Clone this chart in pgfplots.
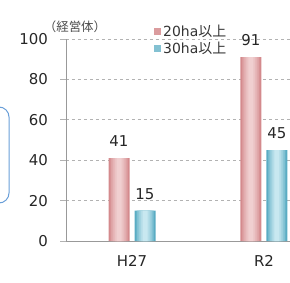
\documentclass[border=0pt]{standalone}
\usepackage{fontspec}
\setmainfont{DejaVu Sans}
\newfontfamily\jp{Noto Sans CJK JP}
\usepackage{pgfplots}
\pgfplotsset{compat=1.18}
\definecolor{pinkD}{HTML}{D48A8D}
\definecolor{pinkL}{HTML}{F0CFD0}
\definecolor{blueD}{HTML}{5AACC3}
\definecolor{blueL}{HTML}{C8E8F0}
\definecolor{boxblue}{HTML}{6A9FD8}
\newcommand{\bigf}{\fontsize{15}{18}\selectfont}
\begin{document}
\begin{tikzpicture}
\path[use as bounding box] (0bp,0bp) rectangle (290bp,283bp);
\draw[rounded corners=10bp, boxblue, line width=1bp] (-20bp,176bp) rectangle (9bp,80bp);
\node[font=\fontsize{12.5}{14}\selectfont\jp, text=black!70] at (75bp,256bp) {（経営体）};
\begin{axis}[
  at={(66bp,42bp)}, anchor=south west,
  scale only axis, width=224bp, height=202bp,
  xmin=-0.5, xmax=1.197, ymin=0, ymax=100,
  axis lines=left,
  axis line style={-, gray!80, line width=0.8bp},
  ytick={0,20,40,60,80,100},
  ymajorgrids, grid style={dashed, gray!60, line width=0.8bp},
  ytick style={gray!60, line width=0.8bp},
  tick align=outside, major tick length=6bp,
  yticklabel style={font=\bigf, text=black!85, inner sep=0pt, anchor=east, xshift=-12bp},
  xtick={0,1}, xticklabels={H27,R2},
  xtick style={draw=none},
  xticklabel style={font=\bigf, text=black!85, inner sep=0pt, anchor=north, yshift=-8bp},
  extra x ticks={-0.5,0.5}, extra x tick labels={},
  extra x tick style={grid=none, major tick length=5bp, tick style={draw=gray!80, line width=0.8bp}},
  /pgf/number format/assume math mode=true,
  every node near coord/.append style={font=\bigf, text=black!85, inner sep=0pt, anchor=south, yshift=11bp},
  legend style={at={(0.393,1.079)}, anchor=north west, draw=none, fill=none,
    font=\fontsize{14}{16}\selectfont, text=black!80, row sep=0bp, inner sep=0pt,
    /tikz/every even column/.append style={column sep=1bp}},
  legend cell align=left,
  clip=false,
]
% pink series (20ha) with layered shading
\addplot[ybar, bar width=21bp, bar shift=-13bp, draw=none, fill=pinkD,
  nodes near coords, every node near coord/.append style={xshift=-13bp},
  legend image code/.code={\fill[pinkD!85] (0bp,-3.5bp) rectangle (7bp,3.5bp);}]
  coordinates {(0,41) (1,91)};
\addlegendentry{20ha{\jp 以上}}
\addplot[forget plot, ybar, bar width=17bp, bar shift=-13bp, draw=none, fill=pinkL!35!pinkD] coordinates {(0,41) (1,91)};
\addplot[forget plot, ybar, bar width=13bp, bar shift=-13bp, draw=none, fill=pinkL!60!pinkD] coordinates {(0,41) (1,91)};
\addplot[forget plot, ybar, bar width=9bp, bar shift=-13bp, draw=none, fill=pinkL!82!pinkD] coordinates {(0,41) (1,91)};
\addplot[forget plot, ybar, bar width=5bp, bar shift=-13bp, draw=none, fill=pinkL] coordinates {(0,41) (1,91)};
% blue series (30ha)
\addplot[ybar, bar width=21bp, bar shift=13bp, draw=none, fill=blueD,
  nodes near coords, every node near coord/.append style={xshift=13bp},
  legend image code/.code={\fill[blueD!75] (0bp,-3.5bp) rectangle (7bp,3.5bp);}]
  coordinates {(0,15) (1,45)};
\addlegendentry{30ha{\jp 以上}}
\addplot[forget plot, ybar, bar width=17bp, bar shift=13bp, draw=none, fill=blueL!35!blueD] coordinates {(0,15) (1,45)};
\addplot[forget plot, ybar, bar width=13bp, bar shift=13bp, draw=none, fill=blueL!60!blueD] coordinates {(0,15) (1,45)};
\addplot[forget plot, ybar, bar width=9bp, bar shift=13bp, draw=none, fill=blueL!82!blueD] coordinates {(0,15) (1,45)};
\addplot[forget plot, ybar, bar width=5bp, bar shift=13bp, draw=none, fill=blueL] coordinates {(0,15) (1,45)};
\end{axis}
\end{tikzpicture}
\end{document}
